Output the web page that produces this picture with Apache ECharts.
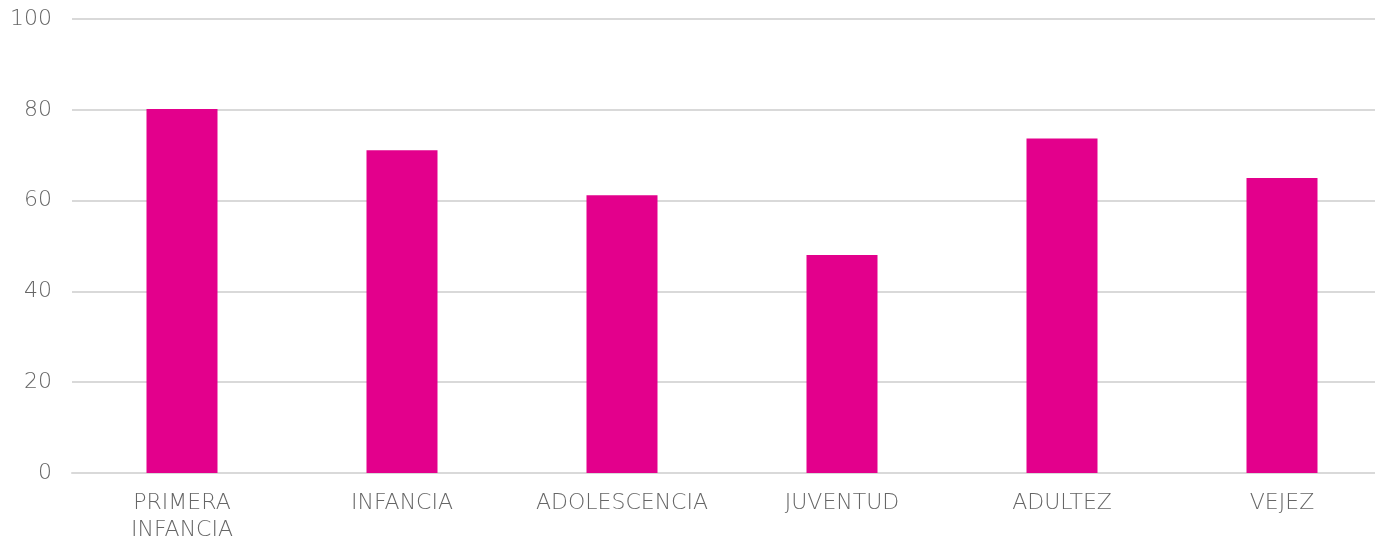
<!DOCTYPE html>
<html>
<head>
<meta charset="utf-8">
<script src="https://cdn.jsdelivr.net/npm/echarts@6/dist/echarts.min.js"></script>
<style>
html, body { margin: 0; padding: 0; background: #fff; }
#main { width: 1375px; height: 544px; }
</style>
</head>
<body>
<div id="main"></div>
<script>
var categories = ['PRIMERA\nINFANCIA', 'INFANCIA', 'ADOLESCENCIA', 'JUVENTUD', 'ADULTEZ', 'VEJEZ'];
var values = [80.2, 71.1, 61.2, 48, 73.7, 65];
var yTicks = { min: 0, max: 100, interval: 20 };

var myChart = echarts.init(document.getElementById('main'));
var font = '"DejaVu Sans"';
var option = {
    animation: false,
    grid: { left: 72, right: -17, top: 19, bottom: 71, outerBoundsMode: 'none', containLabel: false },
    xAxis: {
        type: 'category',
        data: categories,
        axisLine: { show: true, lineStyle: { color: '#d9d9d9', width: 2 } },
        axisTick: { show: false },
        axisLabel: {
            color: '#666', fontSize: 22, fontFamily: font, fontWeight: 200,
            margin: 17, lineHeight: 27, interval: 0
        }
    },
    yAxis: {
        type: 'value',
        min: yTicks.min, max: yTicks.max, interval: yTicks.interval,
        axisLine: { show: false },
        axisTick: { show: false },
        splitLine: { lineStyle: { color: '#d9d9d9', width: 2 } },
        axisLabel: { color: '#666', fontSize: 22, fontFamily: font, fontWeight: 200, margin: 20 }
    },
    series: [{
        type: 'bar',
        data: values,
        barWidth: 71,
        itemStyle: { color: '#E3008C' }
    }]
};
myChart.setOption(option);
</script>
</body>
</html>
